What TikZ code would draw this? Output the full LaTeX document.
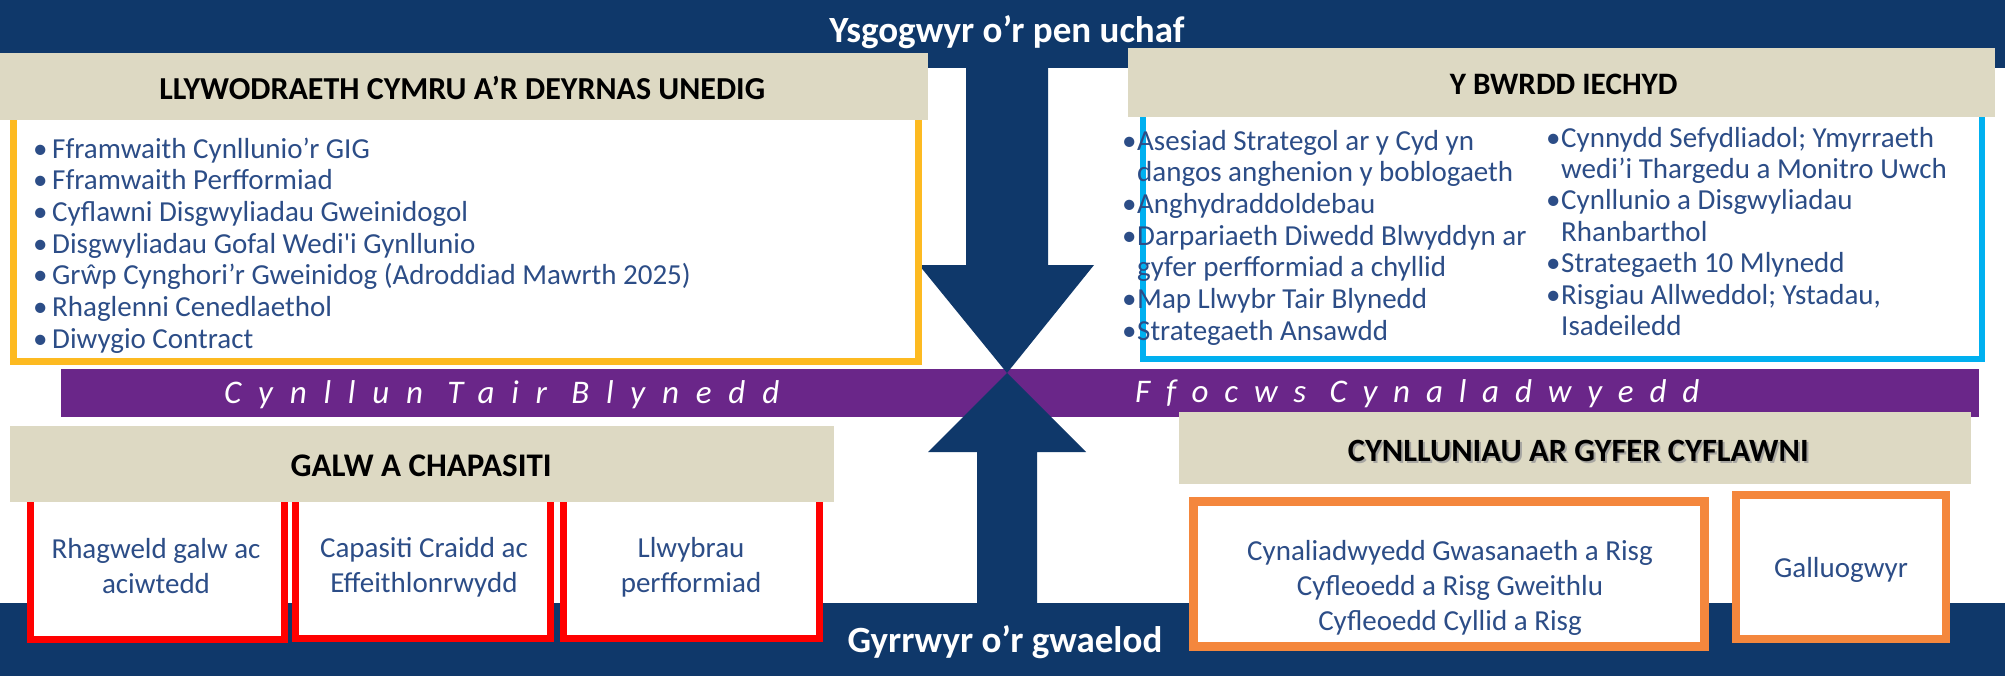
\documentclass[tikz,border=0pt]{standalone}
\usepackage{fontspec}
\setmainfont{Carlito}[Ligatures=TeXOff]
\newfontfamily\spacedit[LetterSpace=51]{Carlito}
\newfontfamily\spaceditb[LetterSpace=48]{Carlito}
\usetikzlibrary{calc}
\definecolor{navy}{RGB}{15,56,106}
\definecolor{purp}{RGB}{106,38,137}
\definecolor{beige}{RGB}{221,217,195}
\definecolor{yel}{RGB}{253,186,33}
\definecolor{cyanb}{RGB}{0,176,240}
\definecolor{redb}{RGB}{255,0,0}
\definecolor{orab}{RGB}{244,135,61}
\definecolor{txt}{RGB}{44,77,135}
\newcommand\bux[1]{\makebox[#1][l]{•}}
\begin{document}
\begin{tikzpicture}[x=1pt,y=-1pt,
  hdr/.style={fill=beige, inner sep=0, anchor=north west},
  hdrtext/.style={inner sep=0, font=\fontsize{#1}{36}\selectfont\bfseries, text=black},
  item/.style={anchor=base west, inner sep=0, text=txt, font=\fontsize{29}{32}\selectfont},
  btext/.style={anchor=base, inner sep=0, align=center, text=txt, font=\fontsize{29}{35}\selectfont},
  ttl/.style={anchor=base, inner sep=0, text=white, font=\fontsize{37}{40}\selectfont\bfseries},
  ptext/.style={anchor=base west, inner sep=0, text=white},
  ybox/.style={draw=yel, line width=7pt, fill=white},
  cbox/.style={draw=cyanb, line width=6pt, fill=white},
  rbox/.style={draw=redb, line width=7pt, fill=white},
  obox/.style={draw=orab, line width=8.5pt, fill=white}]
\useasboundingbox (0,0) rectangle (2005,677);
\fill[white] (0,0) rectangle (2005,677);
% bands
\fill[navy] (0,0) rectangle (2005,68);
\fill[navy] (0,603) rectangle (2005,676);
% purple bar
\fill[purp] (61,369) rectangle (1979,417);
% arrows
\fill[navy] (966,60) -- (1048,60) -- (1048,265) -- (1094,265) -- (1007,373) -- (919,265) -- (966,265) -- cycle;
\fill[navy] (977,610) -- (977,452) -- (928,452) -- (1007,373) -- (1086,452) -- (1037,452) -- (1037,610) -- cycle;
% titles
\node[ttl] (top) at (1007,43) {Ysgogwyr o’r pen uchaf};
\node[ttl] (bot) at (1005,652) {Gyrrwyr o’r gwaelod};
% purple texts
\node[ptext, font=\fontsize{33}{38}\selectfont\spacedit\itshape] (p1) at (224,403) {Cynllun Tair Blynedd};
\node[ptext, font=\fontsize{33}{38}\selectfont\spaceditb\itshape] (p2) at (1135,402) {Ffocws Cynaladwyedd};
% left box
\draw[ybox] (13.5,110) rectangle (918.5,361.5);
\node[hdr, minimum width=928, minimum height=67] (h1) at (0,53) {};
\node[hdrtext=32] (h1t) at ($(h1.center)+(-2,1)$) {LLYWODRAETH CYMRU A’R DEYRNAS UNEDIG};
\node[item] (a1) at (33,158) {\bux{19pt}Fframwaith Cynllunio’r GIG};
\node[item] (a2) at (33,189.7) {\bux{19pt}Fframwaith Perfformiad};
\node[item] (a3) at (33,221.3) {\bux{19pt}Cyflawni Disgwyliadau Gweinidogol};
\node[item] (a4) at (33,253) {\bux{19pt}Disgwyliadau Gofal Wedi'i Gynllunio};
\node[item] (a5) at (33,284.7) {\bux{19pt}Grŵp Cynghori’r Gweinidog (Adroddiad Mawrth 2025)};
\node[item] (a6) at (33,316.3) {\bux{19pt}Rhaglenni Cenedlaethol};
\node[item] (a7) at (33,348) {\bux{19pt}Diwygio Contract};
% right box
\draw[cbox] (1143,105) rectangle (1982,359);
\node[hdr, minimum width=867, minimum height=69] (h2) at (1128,48) {};
\node[hdrtext=31.2] (h2t) at ($(h2.center)+(2,1.5)$) {Y BWRDD IECHYD};
\node[item] (b1) at (1122,150) {\bux{15pt}Asesiad Strategol ar y Cyd yn};
\node[item] (b2) at (1137,181.7) {dangos anghenion y boblogaeth};
\node[item] (b3) at (1122,213.3) {\bux{15pt}Anghydraddoldebau};
\node[item] (b4) at (1122,245) {\bux{15pt}Darpariaeth Diwedd Blwyddyn ar};
\node[item] (b5) at (1137,276.7) {gyfer perfformiad a chyllid};
\node[item] (b6) at (1122,308.3) {\bux{15pt}Map Llwybr Tair Blynedd};
\node[item] (b7) at (1122,340) {\bux{15pt}Strategaeth Ansawdd};
\node[item] (c1) at (1546,147) {\bux{15pt}Cynnydd Sefydliadol; Ymyrraeth};
\node[item] (c2) at (1561,178.4) {wedi’i Thargedu a Monitro Uwch};
\node[item] (c3) at (1546,209.8) {\bux{15pt}Cynllunio a Disgwyliadau};
\node[item] (c4) at (1561,241.2) {Rhanbarthol};
\node[item] (c5) at (1546,272.6) {\bux{15pt}Strategaeth 10 Mlynedd};
\node[item] (c6) at (1546,304) {\bux{15pt}Risgiau Allweddol; Ystadau,};
\node[item] (c7) at (1561,335.4) {Isadeiledd};
% demand and capacity
\draw[rbox] (30.5,495) rectangle (284.5,639.5);
\draw[rbox] (295.5,495) rectangle (550.5,638.5);
\draw[rbox] (563.5,495) rectangle (819.5,638.5);
\node[hdr, minimum width=824, minimum height=76] (h3) at (10,426) {};
\node[hdrtext=33] (h3t) at ($(h3.center)+(-1,2)$) {GALW A CHAPASITI};
\node[btext] (r1) at (156,593) {Rhagweld galw ac\\aciwtedd};
\node[btext] (r2) at (424,592) {Capasiti Craidd ac\\Effeithlonrwydd};
\node[btext] (r3) at (691,592) {Llwybrau\\perfformiad};
% delivery plans
\node[hdr, minimum width=792, minimum height=72] (h4) at (1179,412) {};
\node[hdrtext=32.5, text=black!40, opacity=0.8] (h4s) at ($(h4.center)+(5,5)$) {CYNLLUNIAU AR GYFER CYFLAWNI};
\node[hdrtext=32.5] (h4t) at ($(h4.center)+(3,3)$) {CYNLLUNIAU AR GYFER CYFLAWNI};
\draw[obox] (1193.5,501.5) rectangle (1704.5,646.5);
\draw[obox] (1736,495) rectangle (1946,639);
\node[btext] (o1) at (1450,630) {Cynaliadwyedd Gwasanaeth a Risg\\Cyfleoedd a Risg Gweithlu\\Cyfleoedd Cyllid a Risg};
\node[btext] (o2) at (1841,577) {Galluogwyr};
\end{tikzpicture}
\end{document}
